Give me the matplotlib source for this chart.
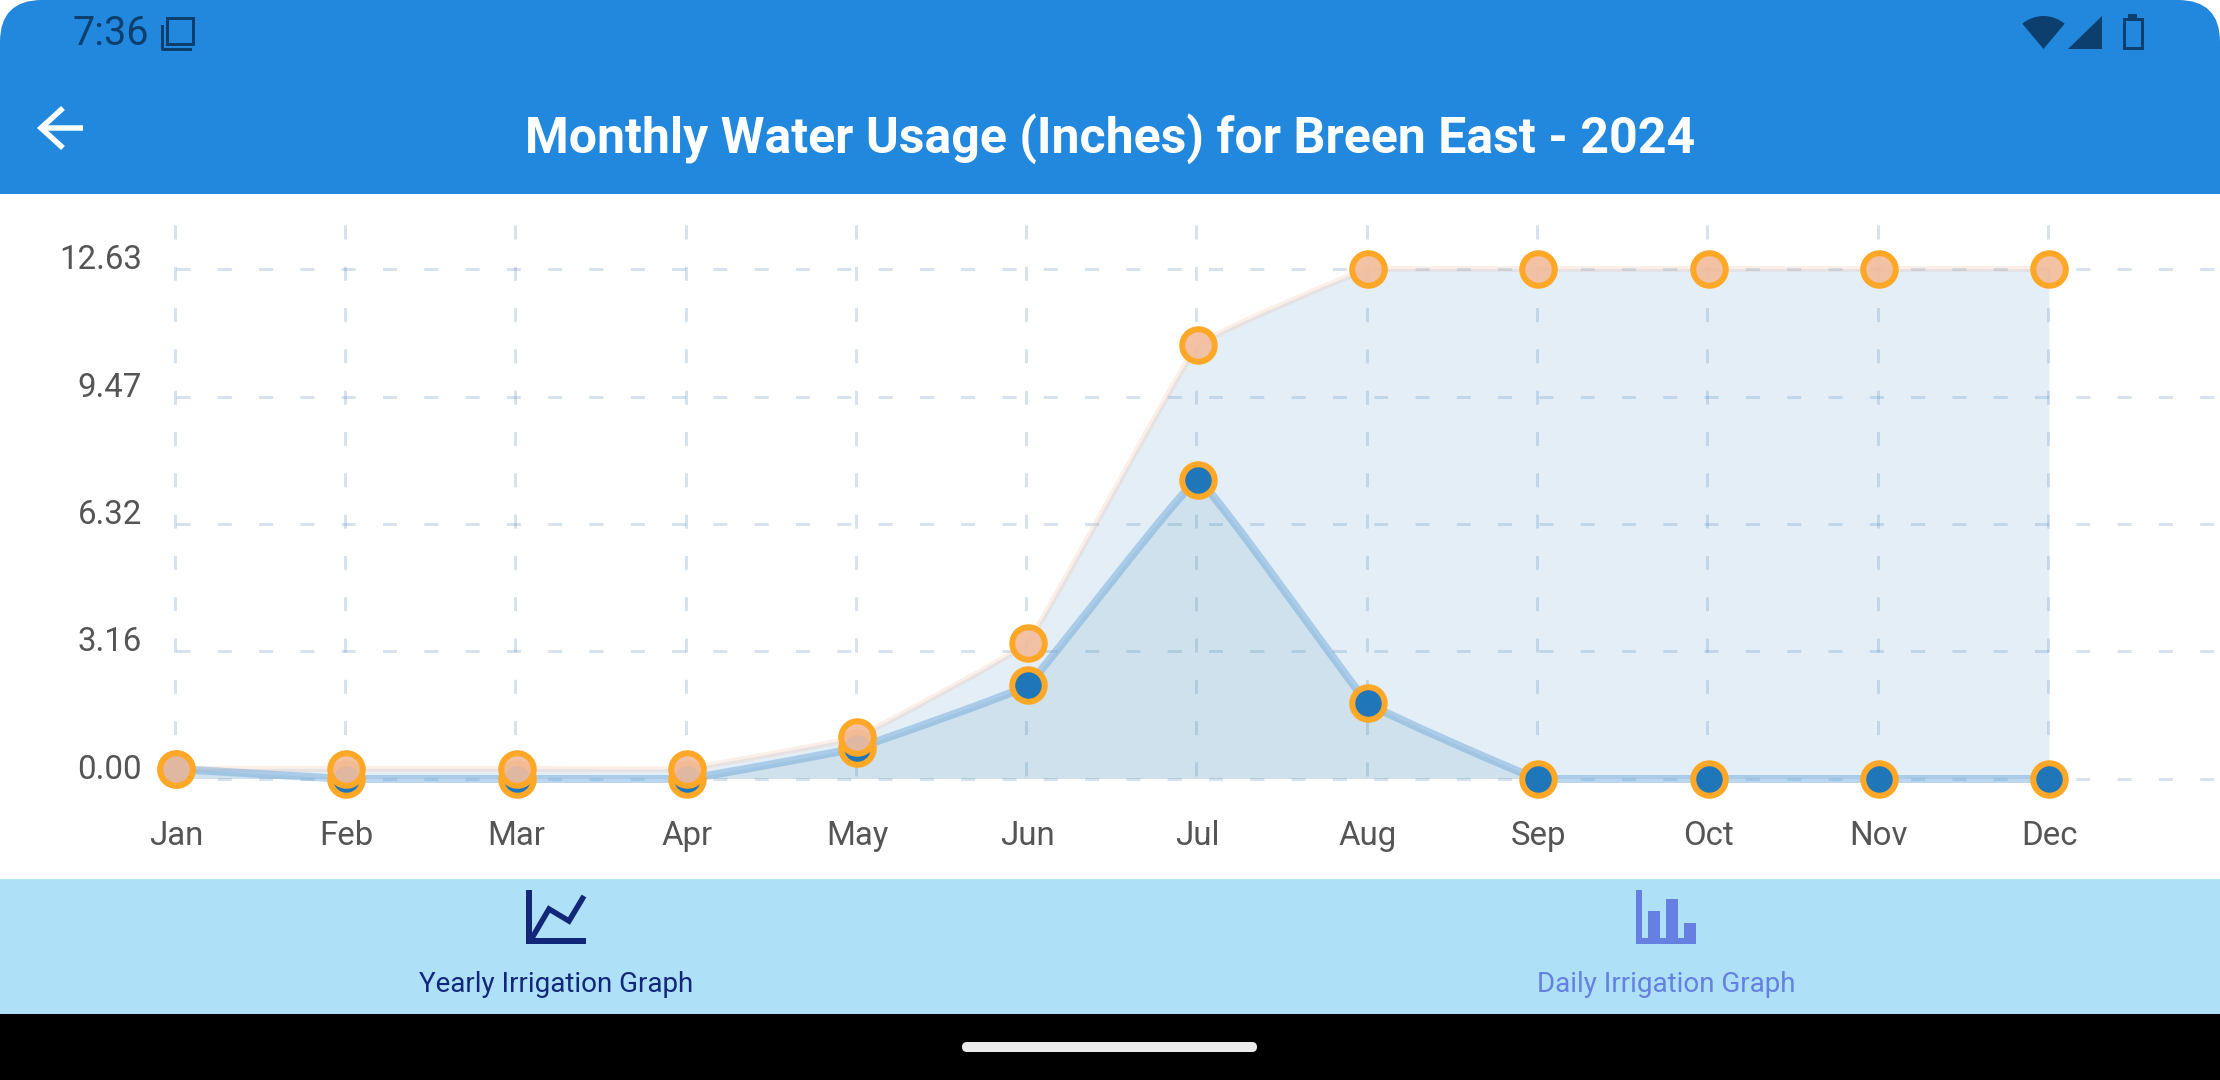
import matplotlib
matplotlib.use('Agg')
import matplotlib.pyplot as plt
import numpy as np
from matplotlib.path import Path
from matplotlib.patches import PathPatch, Rectangle, FancyBboxPatch, Wedge, Polygon

plt.rcParams['font.family'] = ['Roboto', 'DejaVu Sans']
plt.rcParams['lines.scale_dashes'] = False

months = ['Jan', 'Feb', 'Mar', 'Apr', 'May', 'Jun', 'Jul', 'Aug', 'Sep', 'Oct', 'Nov', 'Dec']
upper_values = [0.25, 0.25, 0.25, 0.25, 1.04, 3.37, 10.75, 12.63, 12.63, 12.63, 12.63, 12.63]
lower_values = [0.25, 0.00, 0.00, 0.00, 0.77, 2.32, 7.40, 1.88, 0.00, 0.00, 0.00, 0.00]
y_ticks = [0.00, 3.16, 6.32, 9.47, 12.63]
y_tick_labels = ['0.00', '3.16', '6.32', '9.47', '12.63']

title = 'Monthly Water Usage (Inches) for Breen East - 2024'

W, H, DPI = 2220, 1080, 100
PX = 72 / DPI  # one pixel in points

BLUE_BAR = '#2188DD'
STATUS = '#0C3F6E'
NAVY = '#12277A'
PERI = '#6580E0'
ORANGE = '#FFA726'


def smooth_path(xs, ys, tension, ymax, y_scale):
    # chart.js style spline, control points clamped to the plot range
    xs = np.asarray(xs, dtype=float)
    ys = np.asarray(ys, dtype=float)
    n = len(xs)
    verts = [(xs[0], ys[0])]
    codes = [Path.MOVETO]
    cp_out = []
    cp_in = []
    for i in range(n):
        prev = max(i - 1, 0)
        nxt = min(i + 1, n - 1)
        d01 = np.hypot(xs[i] - xs[prev], (ys[i] - ys[prev]) * y_scale)
        d12 = np.hypot(xs[nxt] - xs[i], (ys[nxt] - ys[i]) * y_scale)
        total = d01 + d12
        fa = tension * d01 / total
        fb = tension * d12 / total
        dx = xs[nxt] - xs[prev]
        dy = ys[nxt] - ys[prev]
        cp_in.append((xs[i] - fa * dx, np.clip(ys[i] - fa * dy, 0, ymax)))
        cp_out.append((xs[i] + fb * dx, np.clip(ys[i] + fb * dy, 0, ymax)))
    for i in range(n - 1):
        verts += [cp_out[i], cp_in[i + 1], (xs[i + 1], ys[i + 1])]
        codes += [Path.CURVE4, Path.CURVE4, Path.CURVE4]
    return verts, codes


def closed_area(verts, codes):
    last_x = verts[-1][0]
    first_x = verts[0][0]
    v = verts + [(last_x, 0), (first_x, 0), verts[0]]
    c = codes + [Path.LINETO, Path.LINETO, Path.CLOSEPOLY]
    return Path(v, c)


fig = plt.figure(figsize=(W / DPI, H / DPI), dpi=DPI, facecolor='white')

# --- app chrome, in pixel coordinates ---
bg = fig.add_axes([0, 0, 1, 1])
bg.set_xlim(0, W)
bg.set_ylim(H, 0)
bg.axis('off')

bg.add_patch(FancyBboxPatch((0, 0), W, 260, boxstyle='round,pad=0,rounding_size=42',
                            fc=BLUE_BAR, ec='none'))
bg.add_patch(Rectangle((0, 194), W, 686, fc='white', ec='none'))
bg.add_patch(Rectangle((0, 879), W, 136, fc='#AEE1F7', ec='none'))
bg.add_patch(Rectangle((0, 1014), W, 66, fc='black', ec='none'))
bg.add_patch(FancyBboxPatch((962, 1042), 295, 10, boxstyle='round,pad=0,rounding_size=5',
                            fc='#EBEBEB', ec='none'))

bg.text(73, 45, '7:36', color=STATUS, fontsize=39.5 * PX, va='baseline', ha='left')
bg.add_patch(Rectangle((167, 18), 26, 26, fc='none', ec=STATUS, lw=3 * PX))
bg.plot([162, 162, 190], [26, 49, 49], color=STATUS, lw=3 * PX)

bg.add_patch(Wedge((2043.5, 49), 33, 230, 310, fc=STATUS, ec='none'))
bg.add_patch(Polygon([(2068, 49), (2102, 16), (2102, 49)], fc=STATUS, ec='none'))
bg.add_patch(Rectangle((2123.5, 19), 18, 29, fc='none', ec=STATUS, lw=3 * PX))
bg.add_patch(Rectangle((2128, 14), 9, 5, fc=STATUS, ec='none'))

bg.plot([41, 83], [128, 128], color='white', lw=5.5 * PX, solid_capstyle='butt')
bg.plot([63, 41, 63], [108, 128, 148], color='white', lw=5.5 * PX,
        solid_capstyle='butt', solid_joinstyle='miter')

bg.text(1110, 153, title, color='white', fontsize=50 * PX, fontweight='bold',
        ha='center', va='baseline')

# line chart icon
bg.add_patch(Rectangle((526, 890), 6, 54, fc=NAVY, ec='none'))
bg.add_patch(Rectangle((526, 938), 60, 6, fc=NAVY, ec='none'))
bg.plot([532, 549, 569, 584], [938, 909, 921, 896], color=NAVY, lw=5.5 * PX,
        solid_capstyle='butt', solid_joinstyle='miter')

# bar chart icon
bg.add_patch(Rectangle((1636, 890), 6, 54, fc=PERI, ec='none'))
bg.add_patch(Rectangle((1636, 938), 60, 6, fc=PERI, ec='none'))
bg.add_patch(Rectangle((1648, 911), 12, 30, fc=PERI, ec='none'))
bg.add_patch(Rectangle((1666, 899), 12, 42, fc=PERI, ec='none'))
bg.add_patch(Rectangle((1684, 923), 12, 18, fc=PERI, ec='none'))

bg.text(556, 992, 'Yearly Irrigation Graph', color=NAVY, fontsize=27.7 * PX,
        ha='center', va='baseline')
bg.text(1666, 992, 'Daily Irrigation Graph', color=PERI, fontsize=27.7 * PX,
        ha='center', va='baseline')

# --- the chart itself ---
AX_LEFT, AX_RIGHT, AX_TOP, AX_BOTTOM = 176, W, 225, 779
MONTH_PX = 170.3
Y_PX = 510 / 12.63

ax = fig.add_axes([AX_LEFT / W, 1 - AX_BOTTOM / H,
                   (AX_RIGHT - AX_LEFT) / W, (AX_BOTTOM - AX_TOP) / H])
ax.patch.set_alpha(0)
ax.set_xlim(0, (AX_RIGHT - AX_LEFT) / MONTH_PX)
y_top = (AX_BOTTOM - AX_TOP) / Y_PX
ax.set_ylim(0, y_top)
for s in ax.spines.values():
    s.set_visible(False)

x = np.arange(len(months))

grid_style = dict(color='#4682B4', alpha=0.22, lw=3 * PX,
                  dashes=(14 * PX, 27.3 * PX), dash_capstyle='butt', zorder=2, clip_on=False)
for gx in x:
    ax.plot([gx - 0.008, gx - 0.008], [y_top, 0], **grid_style)
for gy in y_ticks:
    ax.plot([0, ax.get_xlim()[1]], [gy, gy], **grid_style)

up_v, up_c = smooth_path(x, upper_values, 0.06, 12.63, Y_PX / MONTH_PX)
lo_v, lo_c = smooth_path(x, lower_values, 0.06, 12.63, Y_PX / MONTH_PX)

ax.add_patch(PathPatch(closed_area(up_v, up_c), fc=(0.13, 0.47, 0.75, 0.12), ec='none', zorder=1))
ax.add_patch(PathPatch(closed_area(lo_v, lo_c), fc=(0.15, 0.47, 0.60, 0.11), ec='none', zorder=1.1))

ax.add_patch(PathPatch(Path(up_v, up_c), fc='none', ec='#F0B090', alpha=0.2, lw=6 * PX,
                       zorder=3, clip_on=False))
ax.add_patch(PathPatch(Path(lo_v, lo_c), fc='none', ec='#5E9FD6', alpha=0.42, lw=8 * PX,
                       zorder=3.1, clip_on=False))

ax.plot(x, lower_values, ls='none', marker='o', ms=32.5 * PX, mew=6 * PX,
        mfc='#1F77B9', mec=ORANGE, zorder=4, clip_on=False)
ax.plot(x, upper_values, ls='none', marker='o', ms=32.5 * PX, mew=6 * PX,
        mfc=(0.95, 0.74, 0.62, 0.92), mec=ORANGE, zorder=5, clip_on=False)

ax.set_xticks(x)
ax.set_xticklabels(months)
ax.set_yticks(y_ticks)
ax.set_yticklabels(y_tick_labels)
ax.tick_params(axis='x', length=0, pad=66 * PX, labelsize=33 * PX, labelcolor='#555555')
ax.tick_params(axis='y', length=0, pad=34 * PX, labelsize=33 * PX, labelcolor='#555555')
for lab in ax.get_xticklabels() + ax.get_yticklabels():
    lab.set_va('baseline')

plt.savefig('out.png', dpi=DPI, facecolor='white')
plt.close()
print('Saved: out.png')
